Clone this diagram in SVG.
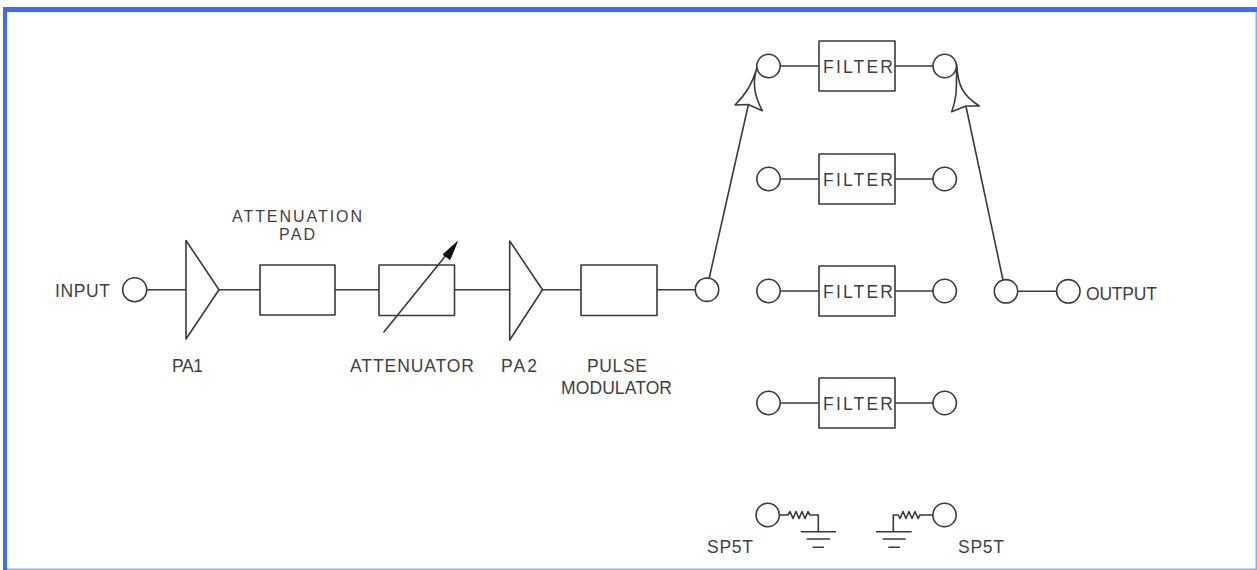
<svg xmlns="http://www.w3.org/2000/svg" width="1257" height="570" viewBox="0 0 1257 570">
<style>
.l{fill:none;stroke:#3a3a3a;stroke-width:1.6;stroke-linejoin:round}
.w{fill:#fff;stroke:#3a3a3a;stroke-width:1.6;stroke-linejoin:round}
text{font-family:"Liberation Sans",Arial,sans-serif;font-size:17.5px;fill:#3f3f3f}
.s{font-size:16px}
</style>
<defs>
<g id="filter"><rect class="w" x="819" y="-25" width="76" height="50"/><text x="823" y="6.500" textLength="70" lengthAdjust="spacing">FILTER</text><circle class="w" cx="768.500" cy="0" r="11.700"/><circle class="w" cx="944.700" cy="0" r="11.700"/><path class="l" d="M780 0H819M895 0H933"/></g>
</defs>
<rect width="1257" height="570" fill="#fff"/>
<g id="frame"><path d="M3 570V7H1257V12H7V570Z" fill="#3c6cff"/><path d="M1255.500 12H1257V570H7V568.500H1255.500Z" fill="#8aa8ff"/></g>
<g id="connectors">
<path class="l" d="M147 289.700H186M219 289.700H260M335 289.700H379M454.500 289.700H510M542.500 289.700H581M657 289.700H695"/>
<path class="l" d="M1018 291.300H1057"/>
<path class="l" d="M709 279L748.300 105"/>
<path class="l" d="M1003 280L966 106.500"/>
<path class="w" d="M757.300 66.700C752 85 745 95 735 105L748.300 104.500L762.300 110.700C754 95 752 82 757.300 66.700Z"/>
<path class="w" d="M956.700 65C958 85 962 95 979.300 106L966 106L951.700 111.700C958 95 956 85 956.700 65Z"/>
</g>
<g id="input"><circle class="w" cx="134.700" cy="289.700" r="12"/><text x="55" y="297" textLength="55" lengthAdjust="spacing">INPUT</text></g>
<g id="pa1"><path class="w" d="M186 240.500L219 289.700L186 339Z"/><text x="172" y="371.500" textLength="31" lengthAdjust="spacing">PA1</text></g>
<g id="pad"><rect class="w" x="260" y="265" width="75" height="50"/><text class="s" x="232" y="222" textLength="130" lengthAdjust="spacing">ATTENUATION</text><text class="s" x="279" y="240" textLength="36" lengthAdjust="spacing">PAD</text></g>
<g id="attenuator"><rect class="w" x="379" y="265" width="75.500" height="50.500"/><path class="l" d="M383.500 332.500L447 254"/><path d="M457.300 241.700L443 254.500L450 259.500Z" fill="#111" stroke="#111"/><text x="350" y="371.700" textLength="124" lengthAdjust="spacing">ATTENUATOR</text></g>
<g id="pa2"><path class="w" d="M509.700 241L542.500 289.700L509.700 340Z"/><text x="501" y="371.700" textLength="36" lengthAdjust="spacing">PA2</text></g>
<g id="modulator"><rect class="w" x="581" y="265" width="76" height="50.500"/><text x="587" y="372" textLength="60" lengthAdjust="spacing">PULSE</text><text x="561" y="394" textLength="111" lengthAdjust="spacing">MODULATOR</text></g>
<g id="sw-in"><circle class="w" cx="707" cy="289.700" r="11.700"/></g>
<g id="sw-out"><circle class="w" cx="1006" cy="291.300" r="11.700"/></g>
<g id="output"><circle class="w" cx="1068.300" cy="291.300" r="11.700"/><text x="1086" y="300" textLength="71" lengthAdjust="spacing">OUTPUT</text></g>
<g id="f1"><use href="#filter" y="66"/></g>
<g id="f2"><use href="#filter" y="179"/></g>
<g id="f3"><use href="#filter" y="291"/></g>
<g id="f4"><use href="#filter" y="403"/></g>
<g id="term-l"><circle class="w" cx="767.700" cy="515" r="11.700"/><path class="l" d="M779.400 515H788l2-3.500 3 7 3-7 3 7 3-7 3 7 3-7 2 3.500H818.300V531.700"/><path class="l" d="M800.700 531.700H836M806.700 539H830M812.700 547.300H824"/><text x="707" y="553" textLength="46" lengthAdjust="spacing">SP5T</text></g>
<g id="term-r"><circle class="w" cx="944.500" cy="515" r="11.700"/><path class="l" d="M932.800 515H920l-2 3.500-3-7-3 7-3-7-3 7-3-7-3 7-1.700-3.500H893.300V531.700"/><path class="l" d="M876 531.700H911.700M882.700 539H905.700M888.300 547.300H900"/><text x="958" y="553" textLength="46" lengthAdjust="spacing">SP5T</text></g>
</svg>
